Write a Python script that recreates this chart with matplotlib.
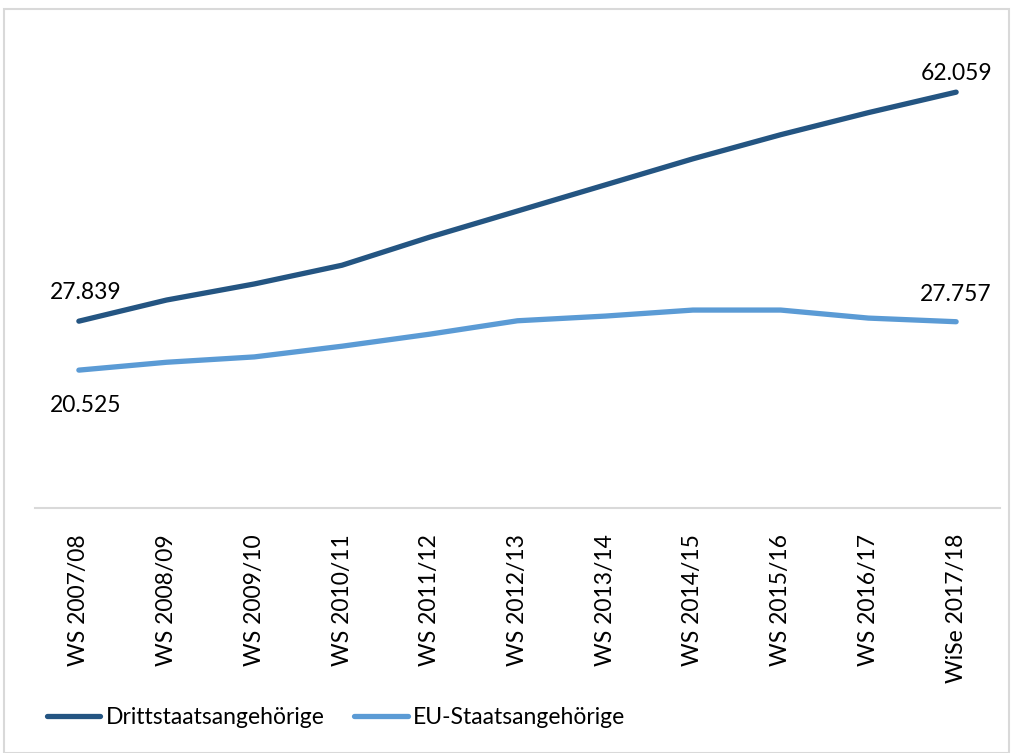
import matplotlib
matplotlib.use('Agg')
import matplotlib.pyplot as plt
from matplotlib.patches import Rectangle

plt.rcParams['font.family'] = ['Lato', 'DejaVu Sans']

semester = ["WS 2007/08", "WS 2008/09", "WS 2009/10", "WS 2010/11", "WS 2011/12",
            "WS 2012/13", "WS 2013/14", "WS 2014/15", "WS 2015/16", "WS 2016/17",
            "WiSe 2017/18"]
dritt = [27.839, 31.0, 33.4, 36.2, 40.4, 44.3, 48.2, 52.1, 55.7, 59.0, 62.059]
eu = [20.525, 21.7, 22.5, 24.1, 25.9, 27.9, 28.6, 29.5, 29.5, 28.3, 27.757]

W, H = 1013, 753
fig = plt.figure(figsize=(W / 100, H / 100), dpi=100)
fig.patches.append(Rectangle((4 / W, 0), (W - 8) / W, 1 - 9 / H, transform=fig.transFigure,
                             fill=False, edgecolor='#d9d9d9', linewidth=1.5))

left, right, bottom, top = 35, 1000, 507.5, 39
ax = fig.add_axes([left / W, 1 - bottom / H, (right - left) / W, (bottom - top) / H])

x = range(len(semester))
ax.plot(x, dritt, color='#245582', linewidth=3.8, solid_capstyle='round',
        label='Drittstaatsangehörige')
ax.plot(x, eu, color='#5b9bd5', linewidth=3.8, solid_capstyle='round',
        label='EU-Staatsangehörige')

ax.set_xlim(-0.5, len(semester) - 0.5)
ax.set_ylim(0, 70)
ax.set_xticks(list(x))
ax.set_xticklabels(semester, rotation=90, fontsize=16.5)
ax.tick_params(axis='x', length=0, pad=19)
ax.set_yticks([])
for s in ['top', 'right', 'left']:
    ax.spines[s].set_visible(False)
ax.spines['bottom'].set_color('#d9d9d9')
ax.spines['bottom'].set_linewidth(1.5)


def fmt(v):
    return f"{v:.3f}"


ax.annotate(fmt(dritt[0]), (0, dritt[0]), xytext=(5, 13), textcoords='offset points',
            ha='center', va='bottom', fontsize=16.5)
ax.annotate(fmt(eu[0]), (0, eu[0]), xytext=(5, -18), textcoords='offset points',
            ha='center', va='top', fontsize=16.5)
ax.annotate(fmt(dritt[-1]), (10, dritt[-1]), xytext=(0, 6), textcoords='offset points',
            ha='center', va='bottom', fontsize=16.5)
ax.annotate(fmt(eu[-1]), (10, eu[-1]), xytext=(0, 12), textcoords='offset points',
            ha='center', va='bottom', fontsize=16.5)

fig.legend(loc='lower left', bbox_to_anchor=(26 / W, 4 / H), ncol=2, frameon=False,
           fontsize=16.5, handlelength=2.35, handletextpad=0.22, columnspacing=1.3)

fig.savefig('out.png', dpi=100)
